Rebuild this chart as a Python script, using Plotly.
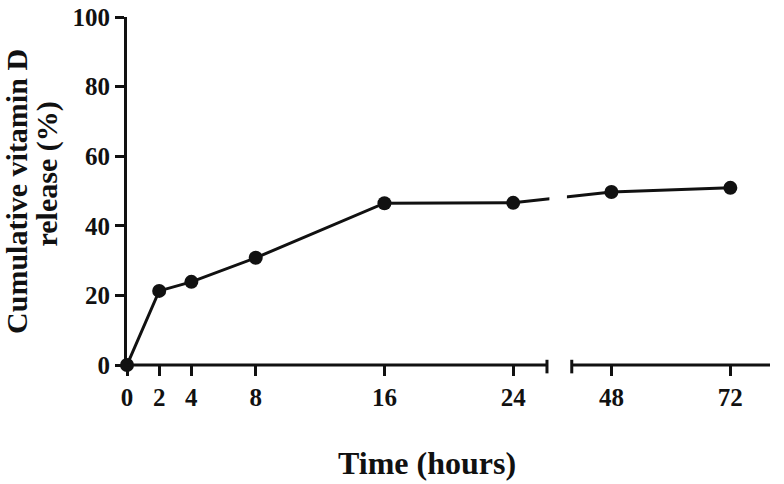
import plotly.graph_objects as go

# ---- data ----
hours = [0, 2, 4, 8, 16, 24, 48, 72]
release = [0, 21.3, 23.9, 30.8, 46.5, 46.6, 49.7, 50.9]
tick_hours = [0, 2, 4, 8, 16, 24, 48, 72]
tick_labels = ["0", "2", "4", "8", "16", "24", "48", "72"]
y_ticks = [0, 20, 40, 60, 80, 100]

# ---- broken axis mapping ----
SEG1_END = 26.1      # hours where first segment ends
SEG2_START = 40.0    # hours where second segment begins
SEG2_END = 80.0
GAP = 1.54           # gap width in display units
K = 0.308            # compression of second segment


def to_u(x):
    if x <= SEG1_END:
        return x
    return SEG1_END + GAP + (x - SEG2_START) * K


U_MAX = to_u(SEG2_END)
U_BREAK2 = SEG1_END + GAP

FONT = "Liberation Serif, Times New Roman, serif"
INK = "#111111"

fig = go.Figure()
fig.add_trace(go.Scatter(
    x=[to_u(h) for h in hours], y=release,
    mode="lines+markers",
    line=dict(color=INK, width=3),
    marker=dict(color=INK, size=14),
    cliponaxis=False,
    showlegend=False,
    hoverinfo="skip",
))

shapes = [
    # white gap through the data line at the break
    dict(type="rect", xref="x", yref="paper", x0=SEG1_END + 0.15, x1=U_BREAK2 - 0.3,
         y0=0.04, y1=1.0, fillcolor="white", line=dict(width=0), layer="above"),
    # x axis segments
    dict(type="line", xref="x", yref="paper", x0=0, x1=SEG1_END, y0=0, y1=0,
         line=dict(color=INK, width=3), layer="above"),
    dict(type="line", xref="x", yref="paper", x0=U_BREAK2, x1=U_MAX, y0=0, y1=0,
         line=dict(color=INK, width=3), layer="above"),
    # break caps
    dict(type="line", xref="x", yref="paper", x0=SEG1_END, x1=SEG1_END, y0=-0.024, y1=0.015,
         line=dict(color=INK, width=3), layer="above"),
    dict(type="line", xref="x", yref="paper", x0=U_BREAK2, x1=U_BREAK2, y0=-0.024, y1=0.015,
         line=dict(color=INK, width=3), layer="above"),
]

fig.update_layout(
    width=784, height=484,
    margin=dict(l=127, r=14, t=17, b=119, autoexpand=False),
    paper_bgcolor="white", plot_bgcolor="white",
    shapes=shapes,
    xaxis=dict(
        range=[0, U_MAX], showgrid=False, zeroline=False, showline=False,
        automargin=False,
        tickmode="array", tickvals=[to_u(h) for h in tick_hours], ticktext=tick_labels,
        ticks="outside", ticklen=10, tickwidth=2.5, tickcolor=INK,
        tickfont=dict(family=FONT, size=25, color=INK, weight="bold"),
        ticklabelstandoff=0,
    ),
    yaxis=dict(
        range=[0, 100], showgrid=False, zeroline=False, automargin=False,
        showline=True, linewidth=3, linecolor=INK,
        tickmode="array", tickvals=y_ticks,
        ticks="outside", ticklen=9, tickwidth=2.5, tickcolor=INK,
        tickfont=dict(family=FONT, size=25, color=INK, weight="bold"),
        ticklabelstandoff=0,
    ),
    annotations=[
        dict(text="Time (hours)", xref="paper", yref="paper", x=0.4666, y=-0.2816,
             xanchor="center", yanchor="middle", showarrow=False,
             font=dict(family=FONT, size=32, color=INK, weight="bold")),
        dict(text="Cumulative vitamin D", xref="paper", yref="paper",
             x=-0.1719, y=0.4986, xanchor="center", yanchor="middle", textangle=-90,
             showarrow=False,
             font=dict(family=FONT, size=30, color=INK, weight="bold")),
        dict(text="release (%)", xref="paper", yref="paper",
             x=-0.1252, y=0.5489, xanchor="center", yanchor="middle", textangle=-90,
             showarrow=False,
             font=dict(family=FONT, size=30, color=INK, weight="bold")),
    ],
)

fig.write_html("out.html", config={"displayModeBar": False},
               post_script="document.body.style.margin='0';")
